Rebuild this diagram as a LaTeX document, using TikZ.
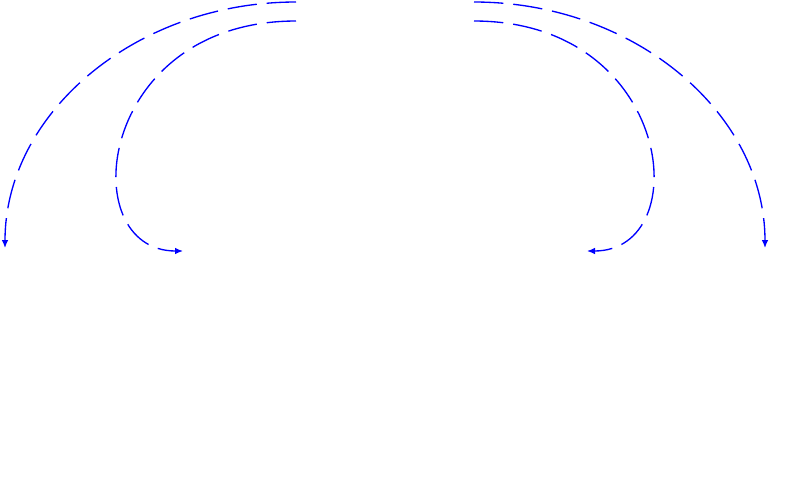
\documentclass[tikz,border=0pt]{standalone}
\usepackage{xcolor}
\usepackage{tikz}
\usetikzlibrary{arrows.meta}

\begin{document}
\begin{tikzpicture}[
    x=0.75pt, y=-0.75pt,
    loopline/.style={draw=blue, line width=1pt, dash pattern=on 22pt off 7.5pt, -{Latex[length=6pt, width=5pt]}}
]
\useasboundingbox (0,0) rectangle (794,487);
\coordinate (outL) at (296,2);
\coordinate (inL) at (296,21);
\coordinate (outR) at (474,2);
\coordinate (inR) at (474,21);
\coordinate (endOutL) at (5,248);
\coordinate (endInL) at (183,251);
\coordinate (endOutR) at (765,248);
\coordinate (endInR) at (587,251);
\draw[loopline] (outL) .. controls +(-160,0) and +(0,-135) .. (endOutL);
\draw[loopline] (inL) .. controls +(-200,0) and +(-110,0) .. (endInL);
\draw[loopline] (outR) .. controls +(160,0) and +(0,-135) .. (endOutR);
\draw[loopline] (inR) .. controls +(200,0) and +(110,0) .. (endInR);
\end{tikzpicture}
\end{document}
